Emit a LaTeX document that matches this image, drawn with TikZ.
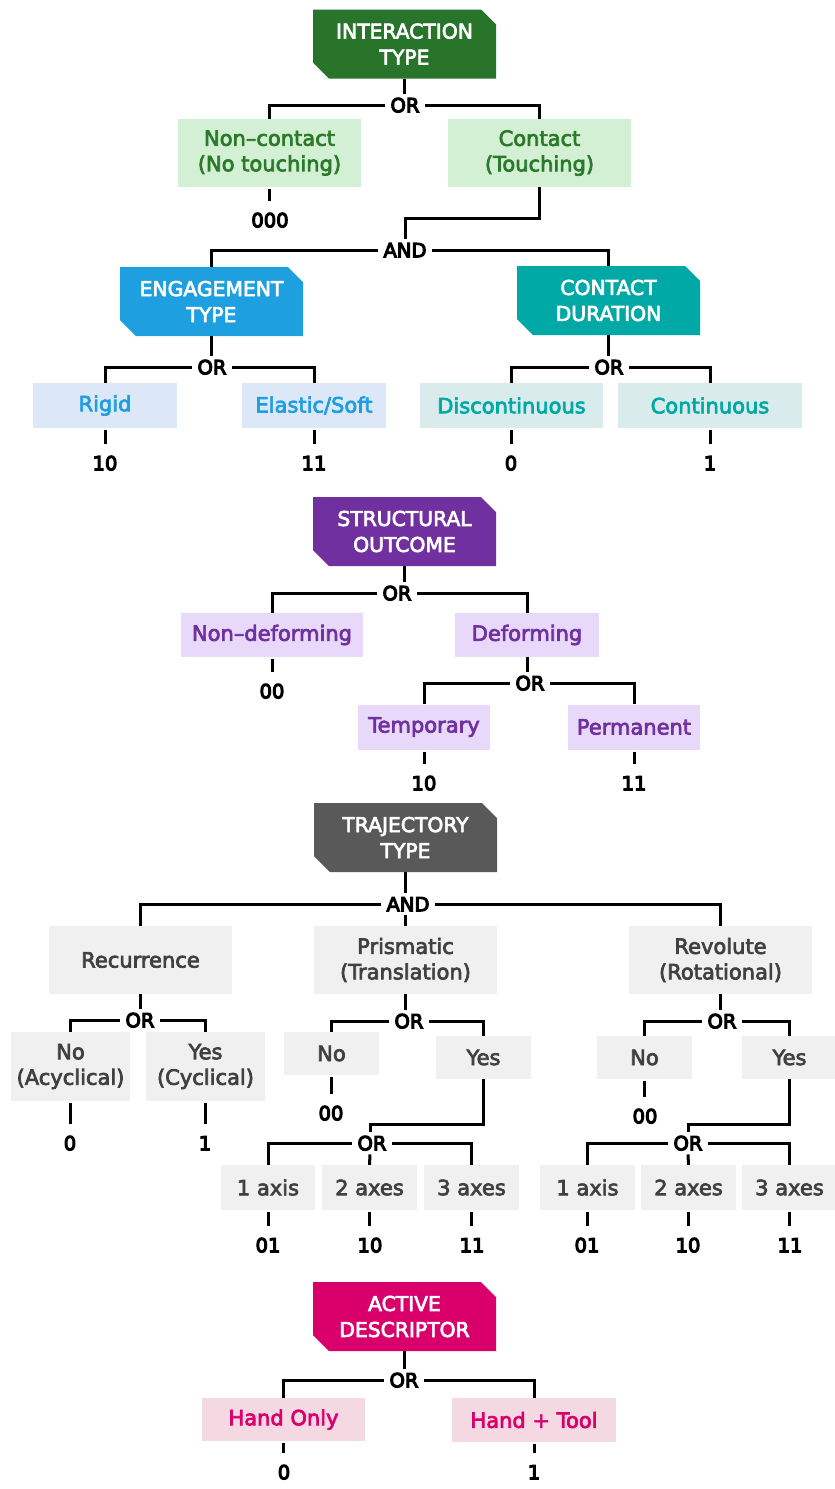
\documentclass[tikz,border=0pt]{standalone}
\usepackage{fontspec}
\setmainfont{DejaVu Sans}
\newcommand\strokew[1]{\special{pdf:literal direct 2 Tr #1 w}}
\definecolor{gH}{HTML}{27742A}
\definecolor{gL}{HTML}{D4F0D4}
\definecolor{gT}{HTML}{2B7A2B}
\definecolor{bH}{HTML}{1EA0E0}
\definecolor{bL}{HTML}{DCE8F7}
\definecolor{bT}{HTML}{1F9EDF}
\definecolor{tH}{HTML}{00A9A5}
\definecolor{tL}{HTML}{DAEBEB}
\definecolor{tT}{HTML}{00A9A5}
\definecolor{pH}{HTML}{7030A0}
\definecolor{pL}{HTML}{E8D9FB}
\definecolor{pT}{HTML}{7030A0}
\definecolor{kH}{HTML}{595959}
\definecolor{kL}{HTML}{F0F0F0}
\definecolor{kT}{HTML}{404040}
\definecolor{mH}{HTML}{D9006B}
\definecolor{mL}{HTML}{F4D9E2}
\definecolor{mT}{HTML}{D9006B}
\tikzset{
  hdr/.style={minimum width=183pt, minimum height=69pt, inner sep=0pt, align=center,
    text=white, fill=white, font=\fontsize{20.3}{26}\selectfont,
    execute at begin node={\strokew{0.7}},
    path picture={\fill[#1] (path picture bounding box.north west)
      -- ([xshift=-15pt]path picture bounding box.north east)
      -- ([yshift=-15pt]path picture bounding box.north east)
      -- (path picture bounding box.south east)
      -- ([xshift=16pt]path picture bounding box.south west)
      -- ([yshift=16pt]path picture bounding box.south west) -- cycle;}},
  leaf/.style 2 args={fill=#1, text=#2, inner sep=0pt, align=center,
    font=\fontsize{21}{25.5}\selectfont, execute at begin node={\strokew{0.7}}},
  gate/.style={inner xsep=5pt, inner ysep=4pt, text height=14.5pt, text depth=0pt,
    font=\fontsize{19.5}{24}\selectfont, execute at begin node={\strokew{1.1}}},
  code/.style={inner sep=0pt, text height=14.5pt, text depth=0pt,
    font=\fontsize{19.5}{24}\selectfont, execute at begin node={\strokew{1.1}}},
  conn/.style={line width=3pt, draw=black},
  stub/.style={conn, shorten <=2pt, shorten >=12pt}
}
\begin{document}
\begin{tikzpicture}[x=1pt,y=-1pt]
\useasboundingbox (0,0) rectangle (835,1489);
% ---------- Section 1 ----------
\node[hdr=gH] (it) at (404.5,44) {INTERACTION\\TYPE};
\node[gate] (or1) at (405,105) {OR};
\node[leaf={gL}{gT}, minimum width=183pt, minimum height=68pt] (noncon) at (269.5,153) {Non–contact\\(No touching)};
\node[leaf={gL}{gT}, minimum width=183pt, minimum height=68pt] (con) at (539.5,153) {Contact\\(Touching)};
\node[code] (c000) at (270,220) {000};
\coordinate (j1) at (405,218);
\node[gate] (and1) at (405,250) {AND};
\node[hdr=bH] (eng) at (211.5,301.5) {ENGAGEMENT\\TYPE};
\node[hdr=tH] (dur) at (608.5,300.5) {CONTACT\\DURATION};
\node[gate] (or2) at (212,367) {OR};
\node[gate] (or3) at (609,367) {OR};
\node[leaf={bL}{bT}, minimum width=144pt, minimum height=45pt] (rigid) at (105,405.5) {Rigid};
\node[leaf={bL}{bT}, minimum width=144pt, minimum height=45pt] (elastic) at (314,405.5) {Elastic/Soft};
\node[leaf={tL}{tT}, minimum width=183pt, minimum height=45pt] (disc) at (511.5,405.5) {Discontinuous};
\node[leaf={tL}{tT}, minimum width=184pt, minimum height=45pt] (cont) at (710,405.5) {Continuous};
\node[code] (c10a) at (105,463) {10};
\node[code] (c11a) at (314,463) {11};
\node[code] (c0a) at (511,463) {0};
\node[code] (c1a) at (710,463) {1};

\draw[conn] (it.south) -- (it.south |- or1.north);
\draw[conn] (noncon.north) |- (or1.west);
\draw[conn] (con.north) |- (or1.east);
\draw[stub] (noncon.south) -- (noncon.south |- c000.north);
\draw[conn] (con.south) |- (j1) -- (and1.north);
\draw[conn] (eng.north) |- (and1.west);
\draw[conn] (dur.north) |- (and1.east);
\draw[conn] (eng.south) -- (eng.south |- or2.north);
\draw[conn] (rigid.north) |- (or2.west);
\draw[conn] (elastic.north) |- (or2.east);
\draw[conn] (dur.south) -- (dur.south |- or3.north);
\draw[conn] (disc.north) |- (or3.west);
\draw[conn] (cont.north) |- (or3.east);
\draw[stub] (rigid.south) -- (rigid.south |- c10a.north);
\draw[stub] (elastic.south) -- (elastic.south |- c11a.north);
\draw[stub] (disc.south) -- (disc.south |- c0a.north);
\draw[stub] (cont.south) -- (cont.south |- c1a.north);

% ---------- Section 2 ----------
\node[hdr=pH] (struct) at (404.5,531.5) {STRUCTURAL\\OUTCOME};
\node[gate] (or4) at (397,593) {OR};
\node[leaf={pL}{pT}, minimum width=182pt, minimum height=44pt] (nondef) at (272,635) {Non–deforming};
\node[leaf={pL}{pT}, minimum width=144pt, minimum height=44pt] (deform) at (527,635) {Deforming};
\node[code] (c00a) at (272,691) {00};
\node[gate] (or5) at (530,683) {OR};
\node[leaf={pL}{pT}, minimum width=132pt, minimum height=45pt] (temp) at (424,727) {Temporary};
\node[leaf={pL}{pT}, minimum width=132pt, minimum height=45pt] (perm) at (634,727) {Permanent};
\node[code] (c10b) at (424,783) {10};
\node[code] (c11b) at (634,783) {11};

\draw[conn] (struct.south) -- (struct.south |- or4.north);
\draw[conn] (nondef.north) |- (or4.west);
\draw[conn] (deform.north) |- (or4.east);
\draw[stub] (nondef.south) -- (nondef.south |- c00a.north);
\draw[conn] (deform.south) -- (deform.south |- or5.north);
\draw[conn] (temp.north) |- (or5.west);
\draw[conn] (perm.north) |- (or5.east);
\draw[stub] (temp.south) -- (temp.south |- c10b.north);
\draw[stub] (perm.south) -- (perm.south |- c11b.north);

% ---------- Section 3 ----------
\node[hdr=kH] (traj) at (405.5,837.5) {TRAJECTORY\\TYPE};
\node[gate] (and2) at (408,904) {AND};
\node[leaf={kL}{kT}, minimum width=183pt, minimum height=68pt] (recur) at (140.5,960) {Recurrence};
\node[leaf={kL}{kT}, minimum width=183pt, minimum height=68pt] (prism) at (405.5,960) {Prismatic\\(Translation)};
\node[leaf={kL}{kT}, minimum width=183pt, minimum height=68pt] (revol) at (720.5,960) {Revolute\\(Rotational)};

\draw[conn] (traj.south) -- (traj.south |- and2.north);
\draw[conn] (prism.north |- and2.south) -- (prism.north);
\draw[conn] (recur.north) |- (and2.west);
\draw[conn] (revol.north) |- (and2.east);

% Recurrence
\node[gate] (or6) at (140,1020) {OR};
\node[leaf={kL}{kT}, minimum width=119pt, minimum height=69pt] (no1) at (70.5,1066.5) {No\\(Acyclical)};
\node[leaf={kL}{kT}, minimum width=119pt, minimum height=69pt] (yes1) at (205.5,1066.5) {Yes\\(Cyclical)};
\node[code] (c0b) at (70,1143) {0};
\node[code] (c1b) at (205,1143) {1};
\draw[conn] (recur.south) -- (recur.south |- or6.north);
\draw[conn] (no1.north) |- (or6.west);
\draw[conn] (yes1.north) |- (or6.east);
\draw[stub] (no1.south) -- (no1.south |- c0b.north);
\draw[stub] (yes1.south) -- (yes1.south |- c1b.north);

% Prismatic
\node[gate] (or7) at (409,1021) {OR};
\node[leaf={kL}{kT}, minimum width=95pt, minimum height=43pt] (no2) at (331.5,1053.5) {No};
\node[leaf={kL}{kT}, minimum width=95pt, minimum height=43pt] (yes2) at (483.5,1057.5) {Yes};
\node[code] (c00b) at (331,1113) {00};
\coordinate (j2) at (370,1124);
\node[gate] (or8) at (372,1143) {OR};
\node[leaf={kL}{kT}, minimum width=94pt, minimum height=45pt] (ax1) at (268,1187.5) {1 axis};
\node[leaf={kL}{kT}, minimum width=95pt, minimum height=45pt] (ax2) at (369.5,1187.5) {2 axes};
\node[leaf={kL}{kT}, minimum width=95pt, minimum height=45pt] (ax3) at (471.5,1187.5) {3 axes};
\node[code] (c01c) at (268,1245) {01};
\node[code] (c10c) at (370,1245) {10};
\node[code] (c11c) at (472,1245) {11};
\draw[conn] (prism.south) -- (prism.south |- or7.north);
\draw[conn] (no2.north) |- (or7.west);
\draw[conn] (yes2.north) |- (or7.east);
\draw[stub] (no2.south) -- (no2.south |- c00b.north);
\draw[conn] (yes2.south) |- (j2) -- (j2 |- or8.north);
\draw[conn] (j2 |- or8.south) -- (ax2.north);
\draw[conn] (ax1.north) |- (or8.west);
\draw[conn] (ax3.north) |- (or8.east);
\draw[stub] (ax1.south) -- (ax1.south |- c01c.north);
\draw[stub] (ax2.south) -- (ax2.south |- c10c.north);
\draw[stub] (ax3.south) -- (ax3.south |- c11c.north);

% Revolute
\node[gate] (or9) at (722,1021) {OR};
\node[leaf={kL}{kT}, minimum width=95pt, minimum height=43pt] (no3) at (644.5,1057.5) {No};
\node[leaf={kL}{kT}, minimum width=95pt, minimum height=43pt] (yes3) at (789.5,1057.5) {Yes};
\node[code] (c00c) at (645,1116) {00};
\coordinate (j3) at (688,1124);
\node[gate] (or10) at (688,1143) {OR};
\node[leaf={kL}{kT}, minimum width=95pt, minimum height=45pt] (bx1) at (587.5,1187.5) {1 axis};
\node[leaf={kL}{kT}, minimum width=95pt, minimum height=45pt] (bx2) at (688.5,1187.5) {2 axes};
\node[leaf={kL}{kT}, minimum width=95pt, minimum height=45pt] (bx3) at (789.5,1187.5) {3 axes};
\node[code] (c01d) at (587,1245) {01};
\node[code] (c10d) at (688,1245) {10};
\node[code] (c11d) at (790,1245) {11};
\draw[conn] (revol.south) -- (revol.south |- or9.north);
\draw[conn] (no3.north) |- (or9.west);
\draw[conn] (yes3.north) |- (or9.east);
\draw[stub] (no3.south) -- (no3.south |- c00c.north);
\draw[conn] (yes3.south) |- (j3) -- (j3 |- or10.north);
\draw[conn] (j3 |- or10.south) -- (bx2.north);
\draw[conn] (bx1.north) |- (or10.west);
\draw[conn] (bx3.north) |- (or10.east);
\draw[stub] (bx1.south) -- (bx1.south |- c01d.north);
\draw[stub] (bx2.south) -- (bx2.south |- c10d.north);
\draw[stub] (bx3.south) -- (bx3.south |- c11d.north);

% ---------- Section 4 ----------
\node[hdr=mH] (act) at (404.5,1316.5) {ACTIVE\\DESCRIPTOR};
\node[gate] (or11) at (404,1380) {OR};
\node[leaf={mL}{mT}, minimum width=163pt, minimum height=43pt] (hand) at (283.5,1419.5) {Hand Only};
\node[leaf={mL}{mT}, minimum width=164pt, minimum height=44pt] (tool) at (534,1420) {Hand + Tool};
\node[code] (c0c) at (284,1472) {0};
\node[code] (c1c) at (534,1472) {1};
\draw[conn] (act.south) -- (act.south |- or11.north);
\draw[conn] (hand.north) |- (or11.west);
\draw[conn] (tool.north) |- (or11.east);
\draw[stub] (hand.south) -- (hand.south |- c0c.north);
\draw[stub] (tool.south) -- (tool.south |- c1c.north);
\end{tikzpicture}
\end{document}
